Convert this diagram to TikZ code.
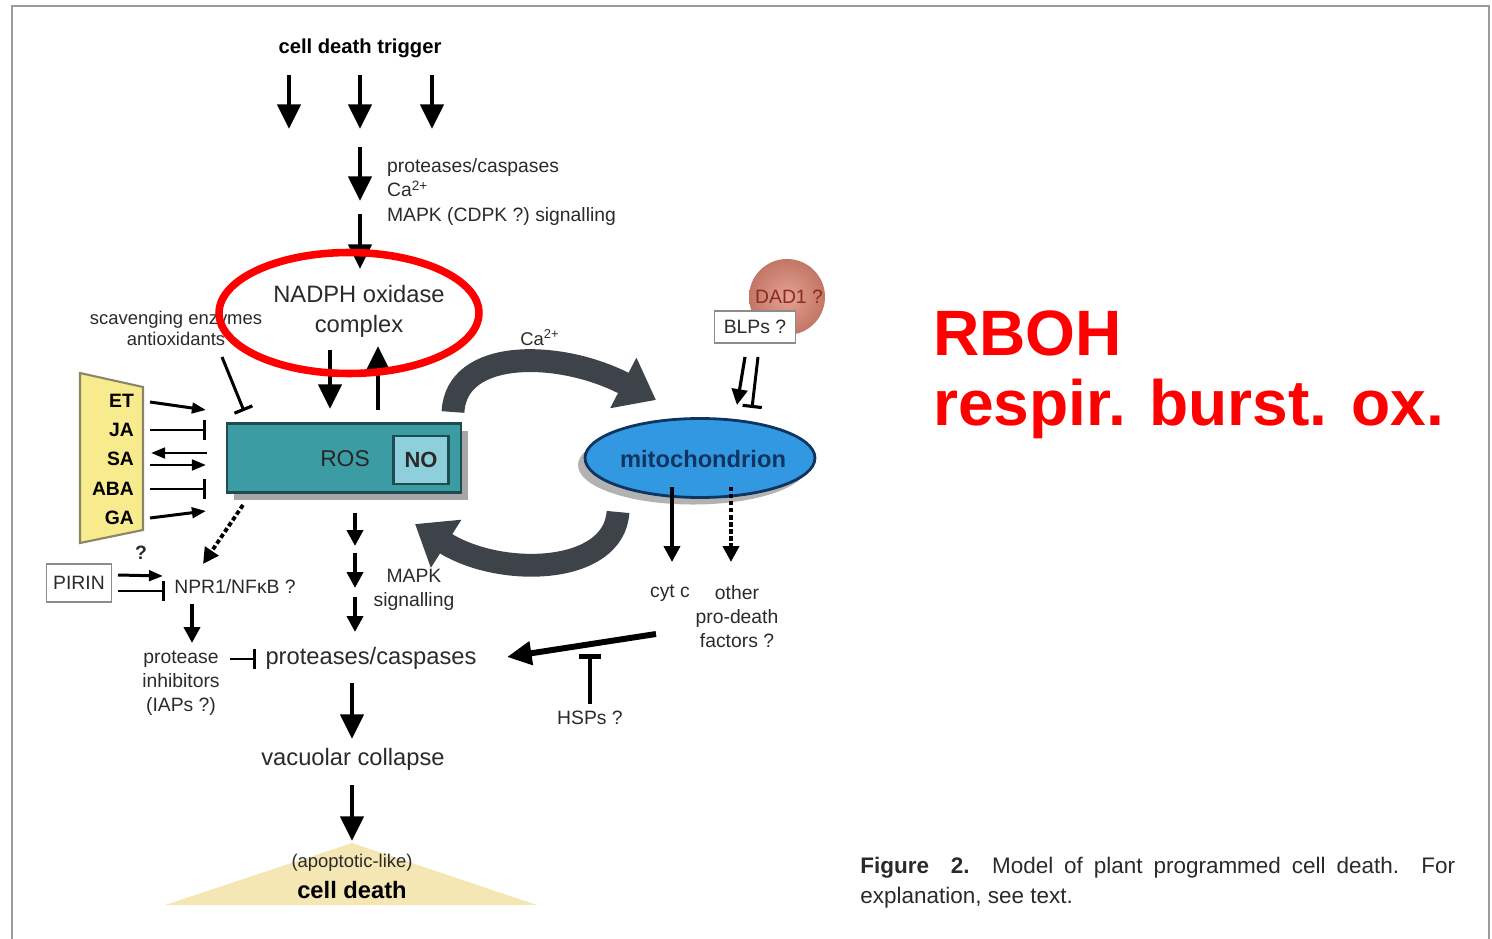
\documentclass[tikz,border=0pt]{standalone}
\usepackage{fontspec}
\setmainfont{Liberation Sans}
\usetikzlibrary{arrows.meta,shapes.geometric,shadows,positioning}

\definecolor{rosfill}{HTML}{3C9CA4}
\definecolor{rosline}{HTML}{1D4C52}
\definecolor{nofill}{HTML}{8DCFDA}
\definecolor{mitofill}{HTML}{3298E2}
\definecolor{mitoline}{HTML}{0E3560}
\definecolor{hormfill}{HTML}{F7EB8E}
\definecolor{hormline}{HTML}{8C8468}
\definecolor{dadfill}{HTML}{D98370}
\definecolor{dadtext}{HTML}{8A2B1E}
\definecolor{caflow}{HTML}{3E434A}
\definecolor{haze}{HTML}{F4E7B3}
\definecolor{framegray}{HTML}{9B9B9B}
\definecolor{ink}{HTML}{2A2A2A}

\tikzset{
  sm/.style={inner sep=1pt, text=ink, font=\fontsize{11}{13.7}\selectfont, align=center},
  lg/.style={inner sep=1pt, text=ink, font=\fontsize{13.5}{17}\selectfont, align=center},
  horm/.style={inner sep=1pt, anchor=east, text=black, font=\bfseries\fontsize{11}{13}\selectfont},
  bigarr/.style={line width=2.6pt, -{Triangle[length=14pt,width=13pt]}},
  midarr/.style={line width=2.2pt, -{Triangle[length=9pt,width=9pt]}},
  smallarr/.style={line width=1.7pt, -{Triangle[length=8pt,width=6pt]}},
  inhib/.style={line width=1.7pt, -{Bar[width=11pt,line width=1.8pt]}},
  dots/.style={dash pattern=on 2.5pt off 1.5pt},
  caflowarr/.style={draw=caflow, line width=13pt, -{Triangle[length=21pt,width=31pt]}},
  boxlbl/.style={sm, draw=black!45, line width=1pt, fill=white},
  redbig/.style={anchor=base west, inner sep=0pt, text=red, font=\bfseries\fontsize{36.5}{40}\selectfont},
  capt/.style={anchor=base west, inner sep=0pt, text=ink, font=\fontsize{12.8}{15}\selectfont},
}

\begin{document}
\begin{tikzpicture}[x=0.02cm, y=-0.02cm]
\useasboundingbox (0,0) rectangle (1492,939);
\draw[framegray, line width=1.3pt] (12,939) -- (12,6) -- (1489,6) -- (1489,939);

% yellow haze below the final step
\fill[haze] (165,905) -- (352,843) -- (537,905) -- cycle;

% trigger and early signalling
\node[sm, font=\bfseries\fontsize{11.5}{13}\selectfont, text=black] (trigger) at (360,48) {cell death trigger};
\foreach \x [count=\i] in {289,360,432} {
  \coordinate (trig\i a) at (\x,75);
  \coordinate (trig\i b) at (\x,129);
  \draw[bigarr] (trig\i a) -- (trig\i b);
}
\node[sm, anchor=west, align=left] (early) at (385,192) {proteases/caspases\\Ca\textsuperscript{2+}\\MAPK (CDPK ?) signalling};
\coordinate (sig a) at (360,147);
\coordinate (sig b) at (360,201);
\coordinate (sig c) at (360,214);
\coordinate (sig d) at (360,269);
\draw[bigarr] (sig a) -- (sig b);
\draw[bigarr] (sig c) -- (sig d);

% NADPH oxidase
\node[lg] (nadph) at (359,311) {NADPH oxidase\\complex};
\node[sm, font=\fontsize{10.5}{12}\selectfont] (scav) at (176,328) {scavenging enzymes\\antioxidants};

% ROS box with NO
\node[draw=rosline, fill=rosfill, line width=1.5pt, minimum width=4.68cm, minimum height=1.38cm,
      drop shadow={shadow xshift=4pt, shadow yshift=-4pt, fill=black!35, opacity=1}] (ros) at (344,458) {};
\node[lg, text=black!85, font=\fontsize{13}{15}\selectfont] (roslbl) at (345,459) {ROS};
\node[draw=rosline, fill=nofill, line width=1.5pt, minimum width=1.1cm, minimum height=0.96cm, inner sep=0pt,
      font=\bfseries\fontsize{12.5}{14}\selectfont, text=ink] (no) at (421,460) {NO};

\coordinate (nad down a) at (330,350);
\coordinate (nad down b) at (330,409);
\coordinate (nad up a) at (378,410);
\coordinate (nad up b) at (378,346);
\draw[bigarr] (nad down a) -- (nad down b);
\draw[bigarr] (nad up a) -- (nad up b);

\coordinate (scav a) at (222,357);
\coordinate (scav b) at (244,411);
\draw[inhib] (scav a) -- (scav b);

% hormones
\filldraw[fill=hormfill, draw=hormline, line width=1.2pt] (80,373) -- (143,387) -- (143,530) -- (80,543) -- cycle;
\foreach \nm/\lbl/\y in {et/ET/401, ja/JA/430, sa/SA/459, aba/ABA/489, ga/GA/518}
  \node[horm] (\nm) at (136,\y) {\lbl};
\foreach \nm/\ya/\yb/\tip in {et/402/410/smallarr, ja/430/430/inhib, aba/489/489/inhib, ga/518/511/smallarr} {
  \coordinate (\nm out) at (150,\ya);
  \coordinate (\nm in) at (206,\yb);
  \draw[\tip] (\nm out) -- (\nm in);
}
\coordinate (sa out) at (150,465);
\coordinate (sa in) at (206,465);
\coordinate (sa back a) at (207,453);
\coordinate (sa back b) at (151,453);
\draw[smallarr] (sa out) -- (sa in);
\draw[smallarr] (sa back a) -- (sa back b);

% NPR1 branch
\node[sm] (npr) at (235,587) {NPR1/NFκB ?};
\coordinate (ros dot) at (243,505);
\coordinate (npr dot) at (203,564);
\draw[midarr, dots] (ros dot) -- (npr dot);
\node[boxlbl, minimum width=1.3cm, minimum height=0.76cm] (pirin) at (79,583) {PIRIN};
\node[sm, font=\bfseries\fontsize{11}{13}\selectfont] (pq) at (141,553) {?};
\coordinate (pirin a) at (118,575);
\coordinate (pirin b) at (163,576);
\coordinate (pirin c) at (118,591);
\coordinate (pirin d) at (165,591);
\draw[smallarr] (pirin a) -- (pirin b);
\draw[inhib] (pirin c) -- (pirin d);

\node[sm] (pinh) at (181,683) {protease\\inhibitors\\(IAPs ?)};
\coordinate (npr a) at (192,604);
\coordinate (npr b) at (192,643);
\draw[midarr] (npr a) -- (npr b);

% central cascade
\node[lg] (casp) at (371,658) {proteases/caspases};
\coordinate (inh a) at (230,659);
\coordinate (inh b) at (256,659);
\draw[inhib] (inh a) -- (inh b);
\node[sm] (mapk) at (414,590) {MAPK\\signalling};
\foreach \ya/\yb [count=\i] in {513/546, 553/588, 597/632} {
  \coordinate (casc\i a) at (355,\ya);
  \coordinate (casc\i b) at (355,\yb);
  \draw[midarr] (casc\i a) -- (casc\i b);
}
\node[lg] (vac) at (353,759) {vacuolar collapse};
\node[sm, font=\fontsize{10.5}{12}\selectfont] (apo) at (352,863) {(apoptotic-like)};
\node[lg, font=\bfseries\fontsize{13.5}{16}\selectfont, text=black] (death) at (352,890) {cell death};
\coordinate (vac a) at (352,683);
\coordinate (vac b) at (352,739);
\coordinate (death a) at (352,785);
\coordinate (death b) at (352,841);
\draw[bigarr] (vac a) -- (vac b);
\draw[bigarr] (death a) -- (death b);

% Ca2+ exchange with the mitochondrion
\coordinate (ca top a) at (453,412);
\coordinate (ca top b) at (656,400);
\draw[caflowarr] (ca top a) .. controls (456,348) and (560,350) .. (ca top b);
\coordinate (ca bot a) at (618,512);
\coordinate (ca bot b) at (415,524);
\draw[caflowarr] (ca bot a) .. controls (614,575) and (500,578) .. (ca bot b);
\node[sm, font=\fontsize{10.5}{12}\selectfont] (ca) at (540,338) {Ca\textsuperscript{2+}};

% mitochondrion
\node[ellipse, draw=mitoline, fill=mitofill, line width=1.6pt, minimum width=4.6cm, minimum height=1.58cm, inner sep=0pt,
      drop shadow={shadow xshift=-4pt, shadow yshift=-4pt, fill=black!30, opacity=1}] (mito) at (700,458) {};
\node[inner sep=0pt, font=\bfseries\fontsize{13.5}{16}\selectfont, text=mitoline] (mitolbl) at (703,459) {mitochondrion};

\node[circle, minimum size=1.52cm, inner sep=0pt, shade, inner color=dadfill!75!white, outer color=dadfill!90!black] (dad) at (787,297) {};
\node[sm, text=dadtext] (dadlbl) at (789,297) {DAD1 ?};
\node[boxlbl, minimum width=1.62cm, minimum height=0.64cm] (blp) at (755,327) {BLPs ?};
\coordinate (blp a) at (745,357);
\coordinate (blp b) at (737,405);
\coordinate (blp c) at (758,357);
\coordinate (blp d) at (752,408);
\draw[midarr, line width=1.8pt] (blp a) -- (blp b);
\draw[inhib] (blp c) -- (blp d);

\coordinate (cyt a) at (672,487);
\coordinate (cyt b) at (672,562);
\coordinate (oth a) at (731,487);
\coordinate (oth b) at (731,562);
\draw[midarr] (cyt a) -- (cyt b);
\draw[midarr, dots] (oth a) -- (oth b);
\node[sm] (cytc) at (670,593) {cyt c};
\node[sm] (other) at (737,617) {other\\pro-death\\factors ?};

\coordinate (rel a) at (656,634);
\coordinate (rel b) at (507,657);
\draw[bigarr, line width=3.4pt] (rel a) -- (rel b);
\node[sm] (hsp) at (590,718) {HSPs ?};
\coordinate (hsp bar) at (590,654);
\draw[line width=2.6pt, -{Bar[width=12pt,line width=2.6pt]}] ([yshift=3pt]hsp.north) -- (hsp bar);

% emphasis on the oxidase
\node[draw=red, line width=4.3pt, ellipse, minimum width=5.2cm, minimum height=2.42cm, inner sep=0pt] (ring) at (349,313) {};
\node[redbig] (rboh) at (933,356) {RBOH};
\node[redbig] (rbohlong) at (933,425) {respir. burst. ox.};

% caption
\node[capt] (cap1) at (860,873) {\makebox[11.9cm][s]{\textbf{Figure\ \ 2.} Model of plant programmed cell death. For}};
\node[capt] (cap2) at (860,903) {explanation, see text.};
\end{tikzpicture}
\end{document}
